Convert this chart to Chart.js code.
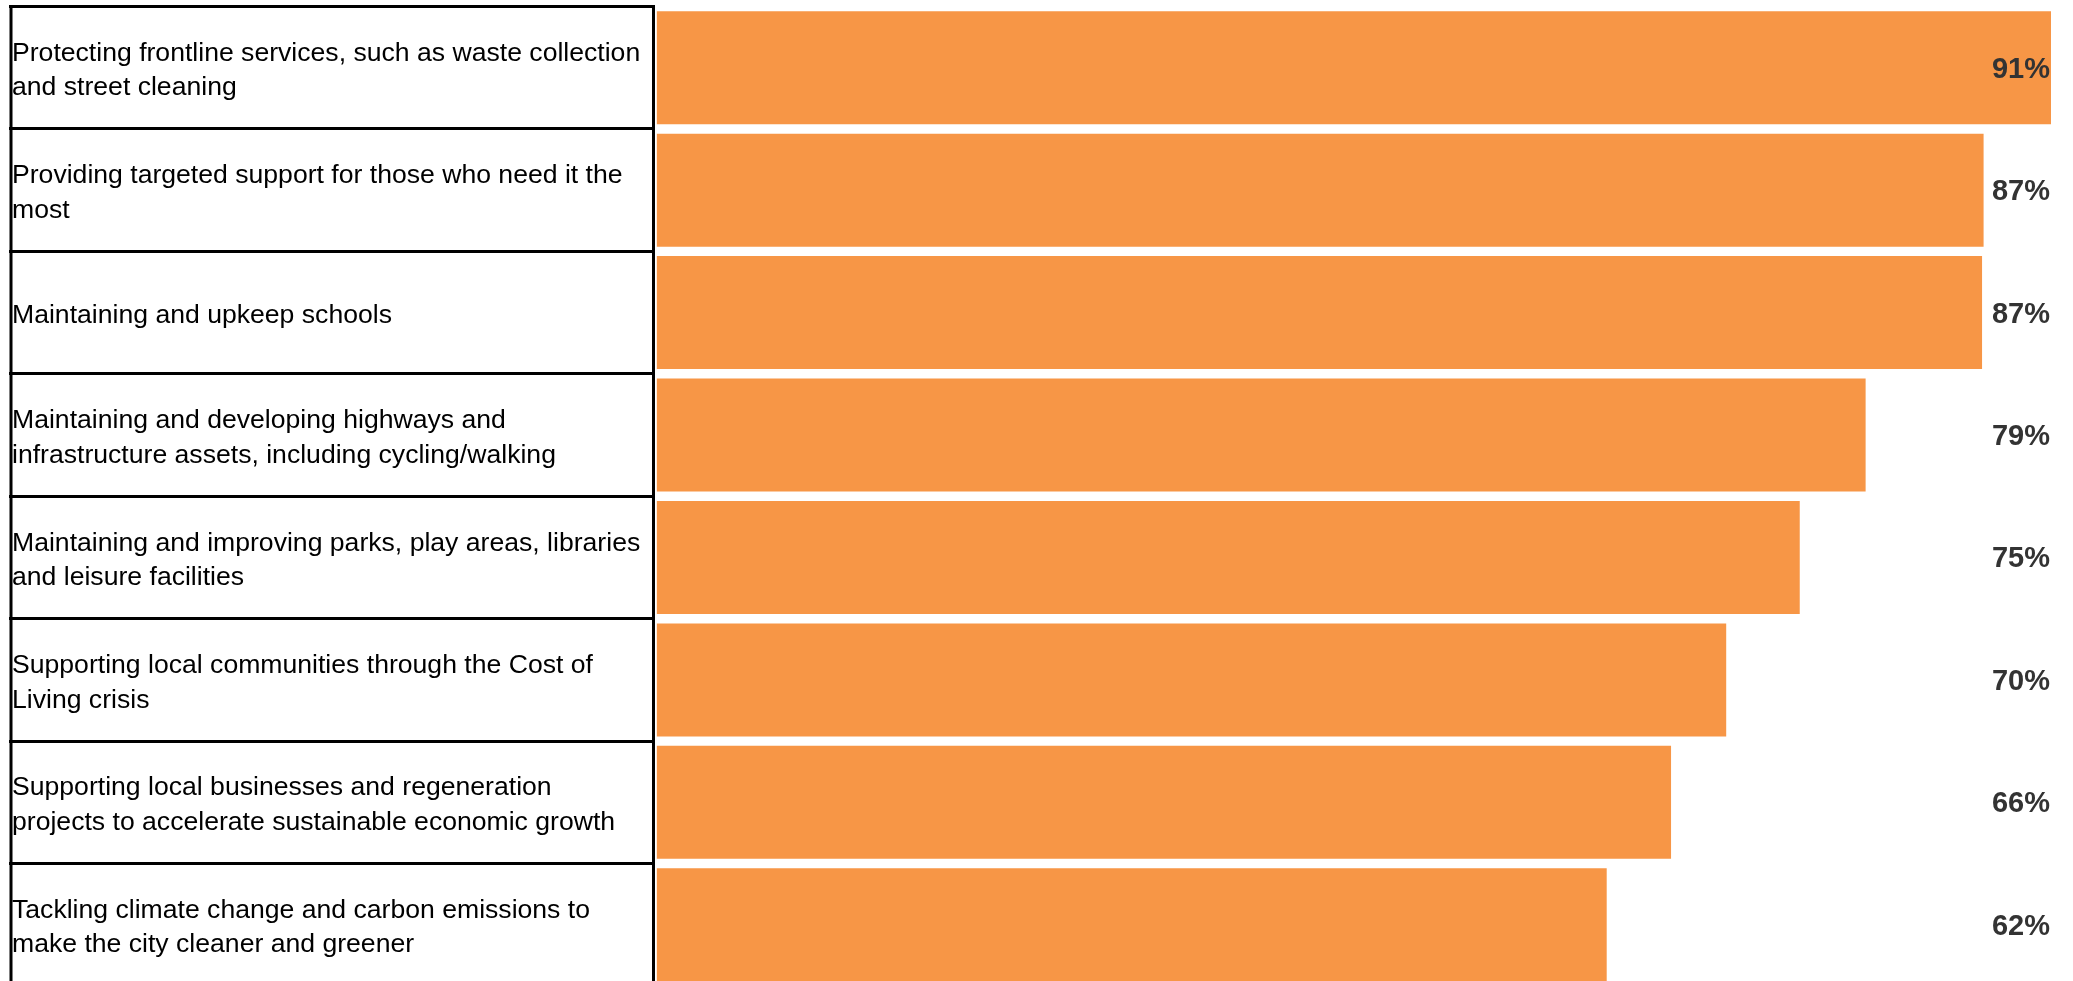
<!DOCTYPE html>
<html>
<head>
<meta charset="utf-8">
<title>Council spending priorities</title>
<script src="https://cdn.jsdelivr.net/npm/chart.js@4.4.0/dist/chart.umd.min.js"></script>
<style>
    html, body { margin: 0; padding: 0; background: #ffffff; overflow: hidden; }
    #wrap { position: relative; width: 2073px; height: 986px; }
</style>
</head>
<body>
<div id="wrap"><canvas id="chart"></canvas></div>
<script>
const CATEGORIES = [
    ['Protecting frontline services, such as waste collection', 'and street cleaning'],
    ['Providing targeted support for those who need it the', 'most'],
    'Maintaining and upkeep schools',
    ['Maintaining and developing highways and', 'infrastructure assets, including cycling/walking'],
    ['Maintaining and improving parks, play areas, libraries', 'and leisure facilities'],
    ['Supporting local communities through the Cost of', 'Living crisis'],
    ['Supporting local businesses and regeneration', 'projects to accelerate sustainable economic growth'],
    ['Tackling climate change and carbon emissions to', 'make the city cleaner and greener']
];

// labels are the rounded figures
const VALUES = [91.0, 86.6, 86.5, 78.9, 74.6, 69.8, 66.2, 62.0];
const VALUE_LABELS = ['91%', '87%', '87%', '79%', '75%', '70%', '66%', '62%'];

const COLORS = {
    bar: '#F79646',
    frame: '#000000',
    label: '#000000',
    valueText: '#333333'
};

const FONT = '"Liberation Sans", Arial, sans-serif';

// left edge of the label box (the axis draws the rest)
const labelBoxPlugin = {
    id: 'labelBox',
    beforeDatasetsDraw(chart) {
        const yScale = chart.scales.y;
        const ctx = chart.ctx;

        ctx.save();
        ctx.strokeStyle = COLORS.frame;
        ctx.lineWidth = 3;
        ctx.beginPath();
        ctx.moveTo(yScale.left - 1, yScale.top - 1.5);
        ctx.lineTo(yScale.left - 1, yScale.bottom);
        ctx.stroke();
        ctx.restore();
    }
};

const valueLabelPlugin = {
    id: 'valueLabels',
    afterDatasetsDraw(chart) {
        const { ctx, chartArea } = chart;
        const meta = chart.getDatasetMeta(0);

        ctx.save();
        ctx.font = 'bold 29px ' + FONT;
        ctx.fillStyle = COLORS.valueText;
        ctx.textAlign = 'right';
        ctx.textBaseline = 'middle';
        meta.data.forEach((bar, i) => {
            ctx.fillText(VALUE_LABELS[i], chartArea.right - 1, bar.y + 2);
        });
        ctx.restore();
    }
};

const SETTINGS = {
    type: 'bar',
    data: {
        labels: CATEGORIES,
        datasets: [{
            data: VALUES,
            backgroundColor: COLORS.bar,
            borderWidth: 0,
            barPercentage: 0.923,
            categoryPercentage: 1
        }]
    },
    plugins: [labelBoxPlugin, valueLabelPlugin],
    options: {
        indexAxis: 'y',
        responsive: true,
        maintainAspectRatio: false,
        animation: false,
        events: [],
        layout: {
            padding: {
                left: 12,
                right: 22,
                top: 6.5,
                bottom: 0
            }
        },
        plugins: {
            legend: { display: false },
            tooltip: { enabled: false }
        },
        scales: {
            x: {
                display: false,
                min: -0.25,
                max: 91
            },
            y: {
                offset: true,
                grid: {
                    offset: true,
                    drawOnChartArea: false,
                    drawTicks: true,
                    tickLength: 644,
                    color: COLORS.frame,
                    lineWidth: 3
                },
                border: {
                    display: true,
                    color: COLORS.frame,
                    width: 3
                },
                ticks: {
                    autoSkip: false,
                    crossAlign: 'far',
                    padding: 0,
                    labelOffset: 3,
                    color: COLORS.label,
                    font: {
                        family: FONT,
                        size: 26.6,
                        lineHeight: 1.3
                    }
                },
                afterFit(scale) {
                    // labels sit inside their rows, no extra room above/below
                    scale.width = 641;
                    scale.paddingTop = 0;
                    scale.paddingBottom = 0;
                }
            }
        }
    }
};

new Chart(document.getElementById('chart').getContext('2d'), SETTINGS);
</script>
</body>
</html>
